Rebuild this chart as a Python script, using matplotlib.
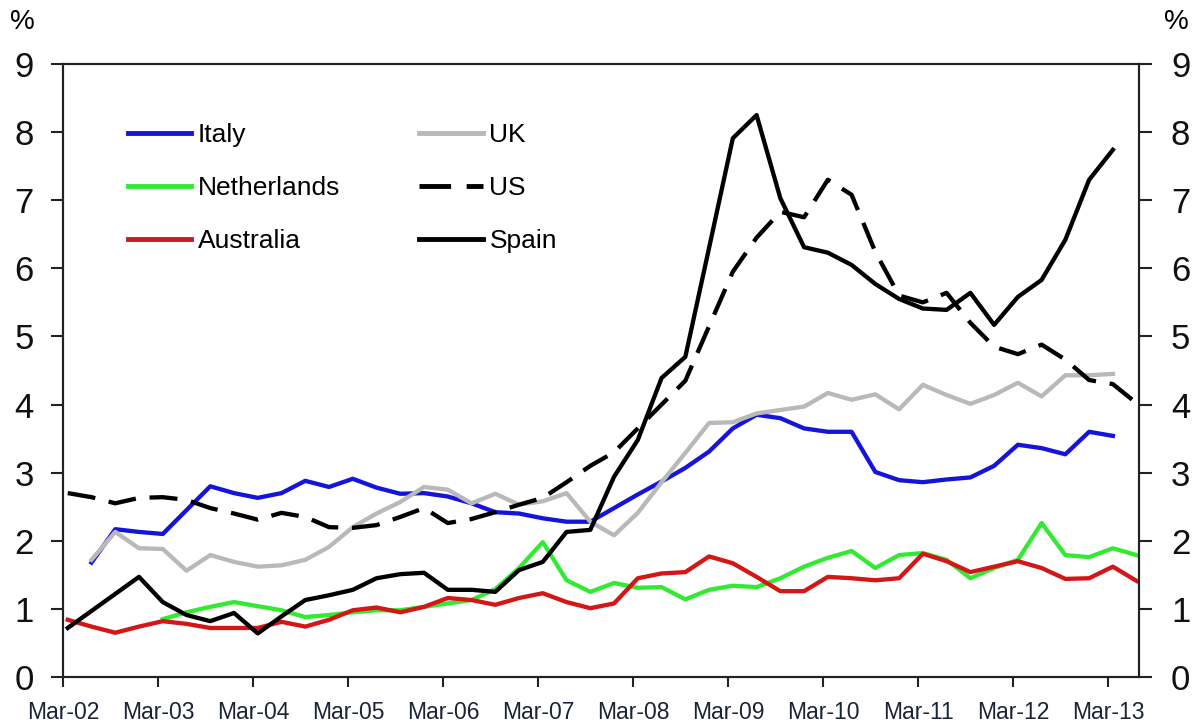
import numpy as np
import matplotlib
matplotlib.use("Agg")
import matplotlib.pyplot as plt

plt.rcParams['font.family'] = ['Liberation Sans', 'DejaVu Sans']

# ---- data (quarterly, starting Mar-02) ----
year_labels = ["Mar-02", "Mar-03", "Mar-04", "Mar-05", "Mar-06", "Mar-07",
               "Mar-08", "Mar-09", "Mar-10", "Mar-11", "Mar-12", "Mar-13"]

italy = [1.68, 2.17, 2.13, 2.10, 2.45, 2.80, 2.70, 2.63, 2.70, 2.88, 2.79, 2.91,
         2.78, 2.69, 2.70, 2.65, 2.55, 2.42, 2.40, 2.33, 2.28, 2.28, 2.48, 2.68,
         2.87, 3.07, 3.31, 3.65, 3.85, 3.80, 3.65, 3.60, 3.60, 3.01, 2.89, 2.86,
         2.90, 2.93, 3.10, 3.41, 3.36, 3.27, 3.60, 3.54]          # Q index 1..44
italy_start = 1

netherlands = [0.85, 0.95, 1.03, 1.10, 1.04, 0.98, 0.88, 0.91, 0.95, 0.98, 0.98,
               1.03, 1.08, 1.13, 1.29, 1.60, 1.98, 1.42, 1.25, 1.38, 1.31, 1.32,
               1.14, 1.28, 1.34, 1.32, 1.45, 1.62, 1.75, 1.85, 1.60, 1.79, 1.82,
               1.72, 1.45, 1.60, 1.72, 2.26, 1.79, 1.76, 1.89, 1.79]  # 4..45
netherlands_start = 4

australia = [0.84, 0.74, 0.65, 0.74, 0.82, 0.78, 0.72, 0.72, 0.72, 0.81, 0.74,
             0.84, 0.98, 1.02, 0.95, 1.03, 1.16, 1.13, 1.06, 1.16, 1.23, 1.10,
             1.01, 1.08, 1.45, 1.52, 1.54, 1.77, 1.67, 1.47, 1.26, 1.26, 1.47,
             1.45, 1.42, 1.45, 1.81, 1.70, 1.54, 1.62, 1.70, 1.60, 1.44, 1.45,
             1.62, 1.41]                                              # 0..45
australia_start = 0

uk = [1.72, 2.13, 1.89, 1.88, 1.56, 1.79, 1.69, 1.62, 1.64, 1.72, 1.91, 2.20,
      2.40, 2.57, 2.79, 2.75, 2.55, 2.69, 2.53, 2.58, 2.70, 2.28, 2.08, 2.41,
      2.86, 3.29, 3.73, 3.74, 3.87, 3.92, 3.97, 4.17, 4.07, 4.15, 3.93, 4.29,
      4.14, 4.01, 4.14, 4.32, 4.12, 4.43, 4.43, 4.45]                # 1..44
uk_start = 1

us = [2.70, 2.64, 2.55, 2.63, 2.64, 2.60, 2.48, 2.40, 2.31, 2.41, 2.35, 2.20,
      2.19, 2.23, 2.35, 2.48, 2.26, 2.32, 2.42, 2.53, 2.63, 2.86, 3.10, 3.30,
      3.65, 4.00, 4.35, 5.15, 5.95, 6.45, 6.83, 6.75, 7.30, 7.08, 6.24, 5.60,
      5.50, 5.64, 5.20, 4.85, 4.74, 4.88, 4.66, 4.36, 4.30, 4.02]    # 0..45
us_start = 0

spain = [0.72, 0.97, 1.22, 1.47, 1.10, 0.91, 0.82, 0.94, 0.64, 0.89, 1.13, 1.20,
         1.28, 1.45, 1.51, 1.53, 1.28, 1.28, 1.25, 1.57, 1.69, 2.13, 2.16, 2.94,
         3.48, 4.39, 4.70, 6.30, 7.91, 8.25, 7.03, 6.31, 6.23, 6.05, 5.77, 5.55,
         5.41, 5.39, 5.64, 5.17, 5.58, 5.83, 6.42, 7.30, 7.74]       # 0..44
spain_start = 0

POINT_OFFSET = 0.2  # points sit slightly after the March tick

def xs(start, vals):
    return np.arange(start, start + len(vals)) + POINT_OFFSET

fig = plt.figure(figsize=(11.99, 7.25), dpi=100)
ax = fig.add_axes([63/1199, 1 - 677/725, (1139-63)/1199, (677-64)/725])

lw = 3.1
ax.plot(xs(italy_start, italy), italy, color='#1414dc', lw=lw, label='Italy')
ax.plot(xs(netherlands_start, netherlands), netherlands, color='#33ea33', lw=lw, label='Netherlands')
ax.plot(xs(australia_start, australia), australia, color='#d41616', lw=lw, label='Australia')
ax.plot(xs(uk_start, uk), uk, color='#b9b9b9', lw=lw, label='UK')
ax.plot(xs(us_start, us), us, color='black', lw=lw, linestyle=(0, (6.5, 3.2)), label='US')
ax.plot(xs(spain_start, spain), spain, color='black', lw=lw, label='Spain')

ax.set_xlim(0, 45.3)
ax.set_ylim(0, 9)
ax.set_xticks(np.arange(0, 4 * len(year_labels), 4))
ax.set_xticklabels(year_labels)
ax.set_yticks(range(0, 10))

for s in ax.spines.values():
    s.set_linewidth(1.5)
    s.set_color('#222222')

ax.tick_params(axis='x', direction='out', length=7, width=1.5, pad=10,
               labelsize=16.5, colors='#222222', labelcolor='#1a2436')
ax.tick_params(axis='y', direction='out', length=9, width=1.5, pad=12,
               labelsize=25, colors='#222222', labelcolor='#111111')

axr = ax.twinx()
axr.set_ylim(0, 9)
axr.set_yticks(range(0, 10))
axr.tick_params(axis='y', direction='out', length=9, width=1.5, pad=14,
                labelsize=25, colors='#222222', labelcolor='#111111')
for s in axr.spines.values():
    s.set_linewidth(1.5)
    s.set_color('#222222')

leg = ax.legend(loc='upper left', bbox_to_anchor=((128-63)/1076, 1 - (123-64)/613),
                ncol=2, frameon=False, fontsize=19, handlelength=2.4,
                handletextpad=0.25, labelspacing=1.1, columnspacing=3.0,
                borderpad=0, borderaxespad=0)
for line in leg.get_lines():
    line.set_linewidth(3.5)

fig.text(10/1199, 1 - 22/725, '%', fontsize=20, va='center', ha='left')
fig.text(1189/1199, 1 - 22/725, '%', fontsize=20, va='center', ha='right')

fig.savefig('out.png', dpi=100)
